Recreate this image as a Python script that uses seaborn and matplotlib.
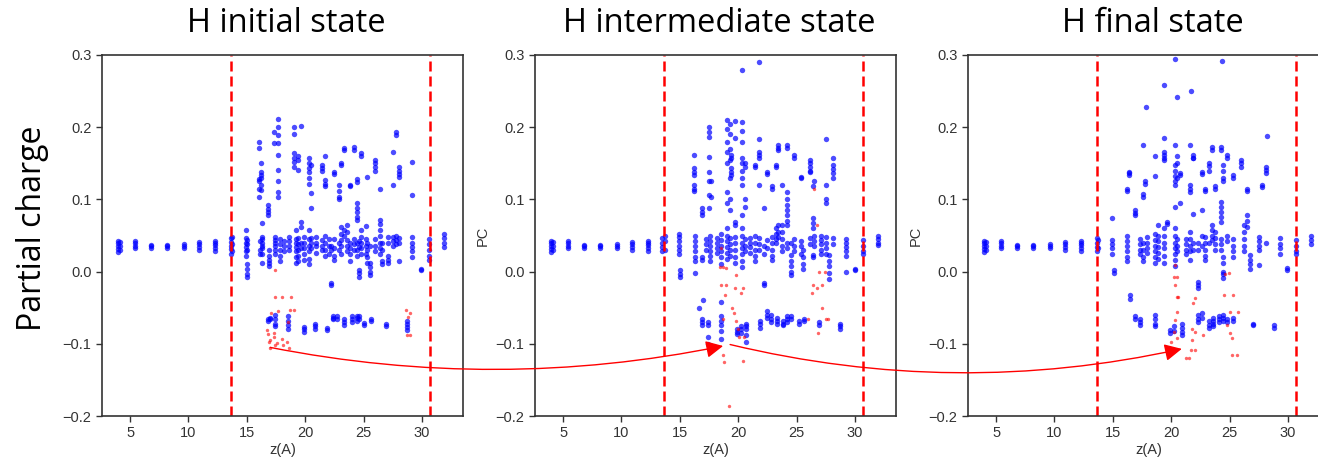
import matplotlib
matplotlib.use("Agg")
import matplotlib.pyplot as plt
import seaborn as sns
import pandas as pd
from matplotlib.patches import ConnectionPatch

# z(A) positions of the H atoms and their partial charges, read by eye
# each entry: (z, [charges seen stacked at that z])
left_blue = [
    (4.0, [0.027, 0.031, 0.035, 0.039, 0.042]), (4.1, [0.030, 0.036, 0.041]),
    (5.4, [0.033, 0.036, 0.040, 0.042]), (6.8, [0.032, 0.035, 0.037]),
    (8.2, [0.033, 0.035, 0.037]), (9.6, [0.032, 0.035, 0.038]),
    (10.9, [0.030, 0.034, 0.038, 0.041]), (12.3, [0.029, 0.033, 0.037, 0.040, 0.042]),
]

initial_blue = [
    (13.6, [0.025, 0.031, 0.036, 0.041, 0.046]), (13.7, [0.028, 0.038, 0.048]),
    (14.9, [0.021, 0.028, 0.034, 0.040, 0.047, 0.057]), (15.0, [0.011, 0.004, -0.003, -0.007]),
    (15.05, [0.030, 0.038, 0.044]), (16.0, [0.180, 0.171, 0.128, 0.125, 0.115, 0.104]),
    (16.2, [0.150, 0.138, 0.134, 0.130, 0.120, 0.113]),
    (16.3, [0.067, 0.048, 0.040, 0.032, 0.024, 0.012, 0.045, 0.036]), (16.1, [0.025, 0.030, 0.042]),
    (16.8, [0.092, 0.087, 0.082, 0.078]), (16.9, [0.021, 0.016, 0.012, 0.008, 0.030]),
    (17.3, [0.194, 0.178]), (17.4, [0.048, 0.040, 0.036, 0.030, 0.024, 0.044]),
    (17.7, [0.212, 0.200, 0.189, 0.178, 0.162, 0.141, 0.125, 0.110, 0.104]),
    (17.8, [0.045, 0.038, 0.030, 0.022, 0.015]), (18.2, [0.042, 0.035, 0.028]),
    (18.6, [0.048, 0.042, 0.036, 0.030]), (19.0, [0.200, 0.190, 0.164, 0.158, 0.152, 0.145]),
    (19.2, [0.058, 0.045, 0.040, 0.034, 0.028, 0.020, 0.012]),
    (19.4, [0.160, 0.155, 0.141, 0.046, 0.038, 0.030, 0.022, 0.015]),
    (19.6, [0.202, 0.069, 0.062, 0.040, 0.032]), (19.9, [0.048, 0.040, 0.032, 0.024, 0.016]),
    (20.3, [0.157, 0.150, 0.144, 0.138, 0.130, 0.122, 0.058, 0.045, 0.036, 0.028, 0.018, 0.010]),
    (20.5, [0.148, 0.109, 0.088, 0.046, 0.040, 0.033]), (20.9, [0.048, 0.040, 0.035, 0.026]),
    (21.4, [0.148, 0.144, 0.140, 0.044, 0.036, 0.030]),
    (21.7, [0.160, 0.127, 0.122, 0.118, 0.050, 0.040, 0.030, 0.022]), (22.0, [0.045, 0.035, 0.025]),
    (22.2, [-0.016, -0.019, 0.036, 0.030]), (22.5, [0.138, 0.135, 0.045, 0.032, 0.022, 0.016]),
    (22.85, [0.120, 0.112, 0.104, 0.100, 0.040, 0.030]),
    (23.1, [0.150, 0.148, 0.062, 0.052, 0.044, 0.035, 0.025]), (23.3, [0.171, 0.168, 0.058, 0.050]),
    (23.6, [0.065, 0.055, 0.044, 0.036, 0.028]), (23.8, [0.120, 0.118, 0.040, 0.032, 0.024, 0.015]),
    (24.2, [0.173, 0.169, 0.045, 0.038, 0.030]),
    (24.4, [0.128, 0.124, 0.095, 0.088, 0.082, 0.076, 0.071, 0.040, 0.030, 0.022]),
    (24.6, [0.002, -0.002, -0.007, 0.042, 0.034]), (24.8, [0.164, 0.160, 0.058, 0.048, 0.040, 0.032, 0.025]),
    (25.2, [0.063, 0.045, 0.036, 0.025]), (25.3, [0.131, 0.040, 0.030, 0.020, 0.012]),
    (25.5, [0.012, 0.006, 0.000, -0.005, 0.035]), (26.0, [0.155, 0.150, 0.145, 0.140, 0.045, 0.036, 0.028]),
    (26.4, [0.115, 0.072, 0.066, 0.058, 0.050, 0.040, 0.032, 0.024]), (26.6, [0.040, 0.030, 0.015, 0.010]),
    (27.1, [0.048, 0.040, 0.021, 0.016, 0.012]), (27.5, [0.166, 0.120, 0.048, 0.042, 0.036]),
    (27.8, [0.194, 0.189, 0.050, 0.044, 0.038]), (28.0, [0.145, 0.140, 0.135, 0.131, 0.046, 0.040, 0.015]),
    (29.1, [0.152, 0.106, 0.048, 0.040, 0.034, 0.028, 0.020]), (29.9, [0.002, 0.004]),
    (30.6, [0.045, 0.038, 0.030, 0.022, 0.016]), (31.9, [0.052, 0.046, 0.040, 0.034]),
    (16.85, [-0.065, -0.068]), (17.0, [-0.064, -0.066]), (17.4, [-0.060, -0.066, -0.072, -0.076]),
    (18.5, [-0.062, -0.068, -0.074, -0.080]), (19.85, [-0.077, -0.080, -0.084]),
    (20.8, [-0.073, -0.076, -0.079]), (21.9, [-0.078, -0.081]), (22.4, [-0.061, -0.064, -0.066]),
    (22.7, [-0.062, -0.066]), (23.3, [-0.066, -0.070, -0.074]), (24.0, [-0.062, -0.066, -0.070]),
    (24.4, [-0.061, -0.064, -0.068]), (24.6, [-0.062, -0.066]), (25.0, [-0.071, -0.074]),
    (25.6, [-0.066, -0.068]), (26.9, [-0.072, -0.075]), (28.7, [-0.068, -0.072, -0.077, -0.081]),
]
initial_red_z = [17.4, 17.4, 18.0, 18.8, 18.7, 19.0, 17.1, 17.7, 16.7, 16.8, 17.0, 17.3, 18.0, 18.1,
                 18.4, 17.4, 17.0, 18.6, 17.6, 16.9, 28.6, 29.0, 28.8, 28.7, 29.0, 17.3, 18.5]
initial_red_q = [0.002, -0.035, -0.035, -0.035, -0.053, -0.053, -0.058, -0.055, -0.081, -0.086,
                 -0.095, -0.091, -0.094, -0.102, -0.098, -0.102, -0.106, -0.106, -0.099, -0.098,
                 -0.053, -0.058, -0.063, -0.088, -0.088, -0.085, -0.070]

intermediate_blue = [
    (13.5, [0.028, 0.034, 0.040, 0.046]), (13.7, [0.030, 0.042, 0.050]),
    (14.95, [0.024, 0.030, 0.036, 0.042, 0.048, 0.052]), (15.0, [0.002, -0.003, -0.007]),
    (16.2, [0.161, 0.143, 0.138, 0.134, 0.120, 0.115, 0.111]),
    (16.3, [0.050, 0.042, 0.035, 0.028, 0.020, 0.014, -0.002]),
    (16.9, [0.088, 0.083, 0.078, 0.020, 0.016]), (17.2, [0.045, 0.038, 0.030]),
    (17.5, [0.200, 0.194, 0.187, 0.159, 0.138, 0.125, 0.106, 0.088]),
    (17.6, [0.050, 0.042, 0.035, 0.028, 0.022, 0.014]), (17.7, [0.125, 0.104]),
    (18.2, [0.046, 0.040, 0.032, 0.026]), (18.5, [0.052, 0.044, 0.036, 0.028, 0.020, 0.010]),
    (19.0, [0.210, 0.198, 0.180, 0.165, 0.150, 0.110, 0.095, 0.060, 0.050, 0.042, 0.034, 0.026, 0.018]),
    (19.3, [0.205, 0.190, 0.170, 0.155, 0.130, 0.100, 0.086, 0.046, 0.038, 0.030, 0.022]),
    (19.4, [0.161, 0.158, 0.143, 0.138, 0.134]),
    (19.7, [0.209, 0.185, 0.069, 0.065, 0.048, 0.040, 0.030, 0.020, 0.012]),
    (20.3, [0.207, 0.195, 0.180, 0.157, 0.150, 0.140, 0.130, 0.120, 0.078, 0.060, 0.050, 0.040,
            0.032, 0.024, 0.015, 0.006]),
    (20.6, [0.150, 0.145, 0.100, 0.090, 0.045, 0.036, 0.028]), (21.0, [0.047, 0.040, 0.034, 0.026]),
    (21.4, [0.148, 0.145, 0.050, 0.040, 0.030, 0.022, 0.015]),
    (21.8, [0.184, 0.165, 0.161, 0.158, 0.120, 0.046, 0.038, 0.030]),
    (22.2, [0.088, -0.016, -0.019, 0.035, 0.025]), (22.5, [0.138, 0.135, 0.044, 0.032]),
    (22.9, [0.118, 0.115, 0.048, 0.040, 0.030, 0.022, 0.016]),
    (23.2, [0.148, 0.145, 0.060, 0.052, 0.045, 0.040]), (23.4, [0.175, 0.171, 0.168, 0.064, 0.055, 0.048]),
    (23.7, [0.120, 0.065, 0.055, 0.045, 0.035, 0.028]),
    (24.2, [0.175, 0.171, 0.110, 0.100, 0.092, 0.085, 0.078, 0.070, 0.065, 0.040, 0.032]),
    (24.5, [0.023, 0.015, 0.008, 0.000, -0.005, 0.040]), (24.8, [0.161, 0.158, 0.045, 0.036, 0.028]),
    (25.4, [0.131, 0.130, 0.042, 0.035, 0.025]), (25.5, [0.030, 0.020, 0.010, 0.004]),
    (26.1, [0.155, 0.150, 0.145, 0.140, 0.138, 0.046, 0.038]),
    (26.4, [0.118, 0.074, 0.068, 0.060, 0.023, 0.020]), (26.5, [0.125, 0.050, 0.042, 0.035]),
    (27.1, [0.050, 0.044, 0.038, 0.030, 0.024]),
    (27.5, [0.183, 0.120, 0.101, 0.095, 0.048, 0.040, 0.032, 0.025]),
    (27.8, [0.023, 0.015, 0.008, -0.002, -0.010]),
    (28.1, [0.158, 0.148, 0.142, 0.136, 0.130, 0.046, 0.038]),
    (29.25, [0.045, 0.040, 0.034, 0.028, 0.022, 0.000]), (30.0, [0.002, 0.004]),
    (30.7, [0.044, 0.036, 0.028, 0.024]), (31.95, [0.050, 0.045, 0.040, 0.037]),
    (20.3, [0.279]), (21.8, [0.290]),
    (16.6, [-0.050]), (17.0, [-0.040]), (16.9, [-0.066, -0.070, -0.074]),
    (17.4, [-0.070, -0.074, -0.090, -0.100]), (18.5, [-0.042, -0.062, -0.068, -0.074, -0.082, -0.094]),
    (19.9, [-0.080, -0.083, -0.086]), (20.2, [-0.075, -0.080, -0.085]),
    (20.7, [-0.072, -0.076, -0.080, -0.088, -0.098]), (21.9, [-0.068, -0.072, -0.078]),
    (22.5, [-0.055, -0.060, -0.064]), (22.8, [-0.060, -0.066, -0.070]),
    (23.3, [-0.064, -0.068, -0.072]), (23.8, [-0.068, -0.072, -0.074]),
    (24.2, [-0.062, -0.066, -0.070]), (24.5, [-0.062, -0.066]), (25.2, [-0.068, -0.072]),
    (25.6, [-0.066, -0.068]), (26.9, [-0.070, -0.074]), (28.7, [-0.072, -0.076, -0.079]),
]
intermediate_red_z = [18.5, 18.4, 18.95, 18.5, 18.95, 19.8, 19.7, 20.4, 20.25, 18.9, 19.5, 19.6, 19.8,
                      20.1, 20.5, 18.7, 18.8, 20.4, 19.2, 26.7, 26.5, 26.95, 27.4, 26.4, 26.7, 27.2,
                      26.3, 27.2, 27.5, 27.7, 26.8, 25.95, 18.7, 19.95, 18.7]
intermediate_red_q = [0.032, 0.007, 0.005, -0.019, -0.019, -0.005, -0.023, -0.023, -0.030, -0.032,
                      -0.051, -0.058, -0.069, -0.090, -0.090, -0.115, -0.125, -0.124, -0.186, 0.065,
                      0.115, 0.000, 0.000, -0.019, -0.023, -0.019, -0.030, -0.051, -0.065, -0.065,
                      -0.085, -0.065, -0.065, -0.079, 0.007]

final_blue = [
    (20.3, [0.295]), (24.3, [0.291]), (19.4, [0.258]), (20.5, [0.242]), (21.7, [0.250]),
    (17.8, [0.228]), (28.2, [0.188]),
    (13.6, [0.028, 0.034, 0.040, 0.046]), (13.7, [0.032, 0.044]),
    (14.9, [0.025, 0.032, 0.038, 0.044, 0.074]), (15.1, [0.002, -0.002]),
    (16.2, [0.115, 0.112, 0.050, 0.042, 0.035, 0.028, 0.020, 0.014]), (16.4, [0.138, 0.136, 0.134]),
    (16.9, [0.085, 0.081, 0.078]), (17.3, [0.045, 0.038, 0.030, 0.024]),
    (17.6, [0.108, 0.104, 0.175, 0.040, 0.030, 0.020, 0.014]), (17.75, [0.125, 0.122]),
    (17.9, [0.048, 0.040, 0.032, 0.026]),
    (18.6, [0.052, 0.044, 0.036, 0.028, 0.020, 0.012, 0.160, 0.132]),
    (18.9, [0.065, 0.050, 0.042, 0.034, 0.026, 0.018]),
    (19.4, [0.185, 0.165, 0.161, 0.157, 0.155, 0.060, 0.050, 0.040, 0.032, 0.022, 0.012]),
    (19.6, [0.069, 0.066]),
    (20.3, [0.175, 0.148, 0.140, 0.132, 0.125, 0.120, 0.090, 0.060, 0.050, 0.040, 0.032, 0.024,
            0.016, 0.008]),
    (20.5, [0.160, 0.150, 0.130, 0.045, 0.036, 0.028]), (20.75, [0.134, 0.137, 0.095]),
    (21.3, [0.045, 0.038, 0.030, 0.024]),
    (21.6, [0.175, 0.120, 0.115, 0.110, 0.055, 0.045, 0.036, 0.028, 0.016]),
    (21.9, [0.161, 0.157, 0.158, 0.080, 0.040, 0.030]),
    (22.3, [-0.014, -0.018, -0.023, 0.040, 0.030]), (22.6, [0.138, 0.135, 0.085, 0.050, 0.036]),
    (22.9, [0.115, 0.112, 0.048, 0.040, 0.030, 0.022, 0.016]), (23.2, [0.150, 0.146, 0.140, 0.040]),
    (23.5, [0.173, 0.168, 0.065, 0.058, 0.050, 0.044]),
    (23.75, [0.118, 0.115, 0.055, 0.046, 0.038, 0.030]),
    (24.25, [0.173, 0.168, 0.097, 0.090, 0.083, 0.076, 0.069, 0.045, 0.038, 0.030]),
    (24.45, [0.148, 0.140, 0.130, 0.125, 0.000, -0.004, -0.009, 0.020, 0.012]),
    (24.75, [0.161, 0.158, 0.050, 0.042]), (25.3, [0.134, 0.130, 0.045, 0.036, 0.028, 0.020]),
    (26.0, [0.155, 0.150, 0.145]), (26.2, [0.065, 0.055, 0.045, 0.036, 0.028]),
    (26.5, [0.115, 0.112, 0.078, 0.070, 0.062]), (26.75, [0.023, 0.016, 0.010, 0.004]),
    (27.5, [0.048, 0.042, 0.036, 0.030, 0.009]), (27.75, [0.120, 0.117]),
    (28.1, [0.145, 0.141, 0.137, 0.040]), (29.3, [0.046, 0.038, 0.032, 0.024]),
    (29.9, [0.002, 0.005]), (30.7, [0.044, 0.036, 0.028, 0.024]), (32.0, [0.050, 0.044, 0.038]),
    (16.5, [-0.032, -0.038]), (16.9, [-0.062, -0.066]), (17.3, [-0.066, -0.070, -0.074]),
    (18.6, [-0.060, -0.066, -0.072, -0.076]), (19.9, [-0.081, -0.085]), (20.2, [-0.075, -0.082]),
    (20.9, [-0.072, -0.078, -0.084, -0.088]), (22.3, [-0.060, -0.066, -0.070]),
    (22.6, [-0.058, -0.064]), (23.2, [-0.068, -0.074, -0.078]),
    (23.6, [-0.064, -0.068, -0.072, -0.076]), (24.1, [-0.062, -0.066, -0.070]),
    (24.45, [-0.060, -0.064, -0.068]), (24.8, [-0.066, -0.070]), (25.3, [-0.064, -0.068]),
    (27.0, [-0.072, -0.074]), (28.75, [-0.074, -0.078]),
]
final_red_z = [20.3, 20.2, 20.5, 20.3, 20.45, 20.6, 20.45, 20.3, 20.2, 20.45, 20.0, 21.3, 21.5, 21.8,
               22.0, 21.75, 21.9, 22.05, 21.65, 24.6, 24.9, 24.5, 25.3, 25.05, 25.75, 24.8, 25.0,
               25.2, 25.2, 25.6, 22.75, 22.05]
final_red_q = [0.009, -0.007, -0.007, -0.019, -0.035, -0.035, -0.056, -0.067, -0.083, -0.092, -0.097,
               -0.120, -0.120, -0.079, -0.083, -0.095, -0.044, -0.037, -0.109, -0.004, -0.002,
               -0.032, -0.032, -0.056, -0.056, -0.074, -0.085, -0.092, -0.115, -0.115, -0.088, -0.109]

titles = ["H initial state", "H intermediate state", "H final state"]
boundaries = [13.6, 30.7]


def to_frame(blue, red_z, red_q):
    rows = []
    for z, qs in left_blue + blue:
        for q in qs:
            rows.append((z, q, "H"))
    for z, q in zip(red_z, red_q):
        rows.append((z, q, "H_rx"))
    return pd.DataFrame(rows, columns=["z", "PC", "kind"])


frames = [to_frame(initial_blue, initial_red_z, initial_red_q),
          to_frame(intermediate_blue, intermediate_red_z, intermediate_red_q),
          to_frame(final_blue, final_red_z, final_red_q)]

sns.set_style("ticks")
plt.rcParams["font.family"] = ["Liberation Sans", "DejaVu Sans"]

fig = plt.figure(figsize=(13.18, 4.66), dpi=100)
lefts = [102 / 1318, 535 / 1318, 968 / 1318]
axes = []
for i, df in enumerate(frames):
    ax = fig.add_axes([lefts[i], 50 / 466, 361 / 1318, 361 / 466])
    sns.scatterplot(data=df[df.kind == "H"], x="z", y="PC", color="blue", s=15,
                    alpha=0.7, linewidth=0, ax=ax)
    sns.scatterplot(data=df[df.kind == "H_rx"], x="z", y="PC", color="red", s=6,
                    alpha=0.6, linewidth=0, ax=ax)
    for b in boundaries:
        ax.axvline(b, color="red", ls=(0, (4, 2)), lw=1.8)
    ax.set_xlim(2.6, 33.5)
    ax.set_ylim(-0.2, 0.3)
    ax.set_yticks([-0.2, -0.1, 0.0, 0.1, 0.2, 0.3])
    ax.set_xticks([5, 10, 15, 20, 25, 30])
    ax.tick_params(labelsize=10.5, colors="#333333", length=4, width=1, direction="out")
    for sp in ax.spines.values():
        sp.set_color("#333333")
        sp.set_linewidth(1.2)
    ax.set_xlabel("z(A)", fontsize=10.5, color="#333333", labelpad=2)
    ax.set_ylabel("PC" if i > 0 else "", fontsize=10.5, color="#333333")
    axes.append(ax)
    # big slide-style title above each panel
    fig.text(lefts[i] + 361 / 1318 / 2 + 4 / 1318, 1 - 24 / 466, titles[i], fontsize=23.5,
             family="Open Sans", color="black", ha="center", va="center")

fig.text(33 / 1318, 1 - 228 / 466, "Partial charge", rotation=90, fontsize=23,
         family="Open Sans", color="black", ha="center", va="center")

# curved arrows tracking the reacting H between states
for (a, b, pa, pb, rad) in [(0, 1, (17.0, -0.105), (18.7, -0.103), 0.1),
                            (1, 2, (19.3, -0.101), (20.9, -0.107), 0.115)]:
    con = ConnectionPatch(xyA=pa, coordsA=axes[a].transData, xyB=pb, coordsB=axes[b].transData,
                          arrowstyle="-|>", connectionstyle=f"arc3,rad={rad}", color="red",
                          lw=1.0, mutation_scale=26)
    fig.add_artist(con)

fig.savefig("out.png", dpi=100)
